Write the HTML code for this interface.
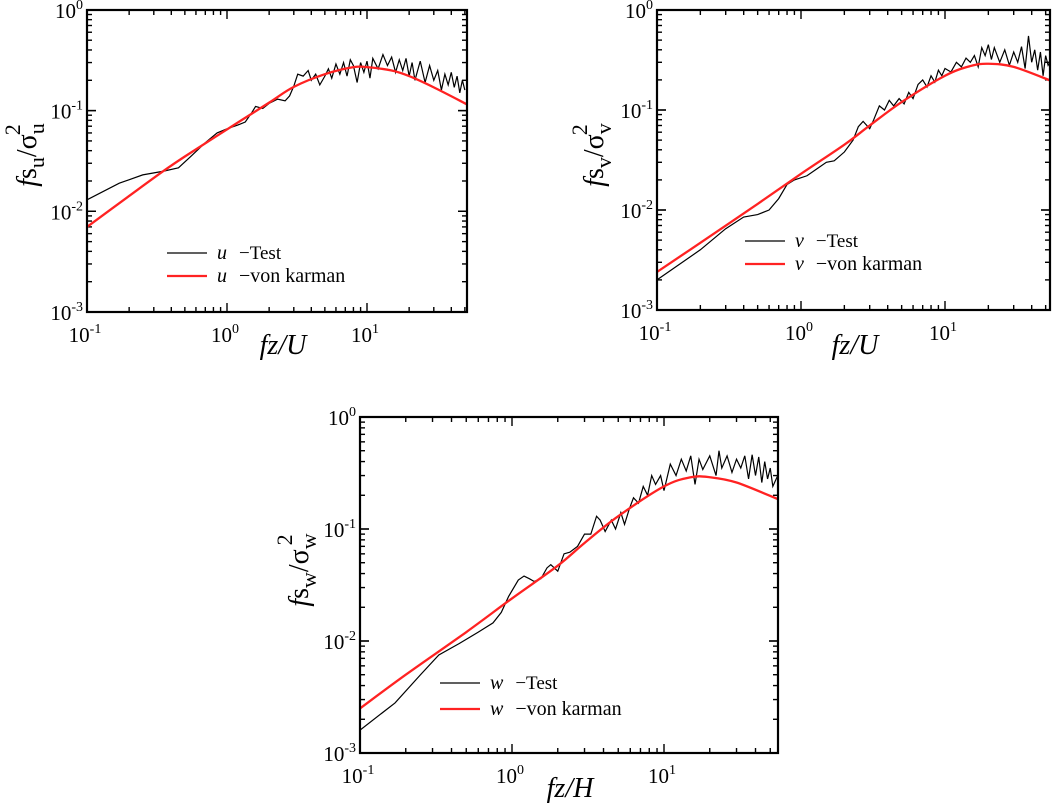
<!DOCTYPE html>
<html><head><meta charset="utf-8"><style>
html,body{margin:0;padding:0;background:#fff;}
svg{display:block;font-family:"Liberation Serif",serif;}
</style></head><body>
<svg id="fig" width="1052" height="804" viewBox="0 0 1052 804"></svg>
<script>
// Panel u data
const uTestX=[0.1,0.17,0.25,0.35,0.45,0.55,0.7,0.85,1,1.2,1.35,1.5,1.6,1.8,2,2.3,2.6,2.8,3,3.2,3.5,3.8,4,4.3,4.6,5,5.3,5.6,6,6.4,6.8,7.2,7.6,8,8.5,9,9.5,10,10.5,11,12,13,14,15,16,17,18,19,20,21,22,24,26,28,30,32,34,36,38,40,42,44,46,48,50];
const uTestY=[0.013,0.019,0.023,0.025,0.027,0.035,0.048,0.06,0.066,0.072,0.077,0.095,0.11,0.105,0.118,0.13,0.125,0.14,0.175,0.23,0.22,0.25,0.2,0.23,0.18,0.22,0.26,0.21,0.29,0.23,0.3,0.22,0.32,0.28,0.19,0.3,0.24,0.31,0.21,0.33,0.26,0.36,0.28,0.34,0.24,0.32,0.25,0.33,0.22,0.3,0.2,0.31,0.19,0.28,0.2,0.25,0.16,0.23,0.18,0.24,0.17,0.22,0.15,0.2,0.16];
const uVkX=[0.1,0.2,0.35,0.5,1,2,3,5,8,10,15,20,30,52];
const uVkY=[0.007,0.0142,0.025,0.035,0.065,0.12,0.172,0.23,0.27,0.27,0.25,0.22,0.17,0.115];
// Panel v data
const vTestX=[0.1,0.2,0.3,0.4,0.5,0.6,0.7,0.8,0.9,1.1,1.3,1.5,1.7,2,2.3,2.5,2.7,3,3.2,3.5,3.8,4.1,4.4,4.8,5.2,5.6,6,6.5,7,7.5,8,8.5,9,9.5,10,11,12,13,14,15,16,17,18,19,20,21,22,24,26,28,30,32,34,36,38,40,42,44,46,48,50,52,55];
const vTestY=[0.002,0.004,0.0065,0.0085,0.009,0.01,0.013,0.018,0.02,0.022,0.026,0.03,0.031,0.038,0.05,0.068,0.077,0.065,0.08,0.11,0.1,0.125,0.11,0.13,0.115,0.15,0.13,0.18,0.2,0.17,0.22,0.19,0.25,0.22,0.26,0.24,0.3,0.27,0.33,0.3,0.35,0.27,0.42,0.35,0.45,0.32,0.42,0.3,0.4,0.28,0.38,0.3,0.43,0.26,0.55,0.3,0.4,0.25,0.38,0.22,0.35,0.28,0.32];
const vVkX=[0.1,0.2,0.5,1,2,3,5,10,15,20,30,55];
const vVkY=[0.0024,0.0047,0.0115,0.023,0.045,0.07,0.12,0.22,0.275,0.29,0.27,0.195];
// Panel w data
const wTestX=[0.1,0.17,0.25,0.33,0.45,0.6,0.75,0.85,0.95,1.1,1.2,1.3,1.4,1.55,1.7,1.8,2,2.2,2.4,2.7,3,3.3,3.6,3.8,4.1,4.5,4.8,5.2,5.5,5.9,6.3,6.8,7.3,7.8,8.3,8.8,9.5,10,11,12,13,14,15,16,17,18,20,22,23,24,26,28,30,32,34,36,38,40,42,44,46,48,50,52,56];
const wTestY=[0.0016,0.0028,0.005,0.0075,0.0095,0.012,0.0145,0.018,0.025,0.035,0.038,0.036,0.034,0.036,0.045,0.048,0.042,0.06,0.062,0.07,0.09,0.09,0.13,0.12,0.095,0.12,0.1,0.14,0.11,0.15,0.19,0.17,0.24,0.2,0.3,0.25,0.3,0.22,0.38,0.3,0.42,0.33,0.45,0.25,0.42,0.34,0.45,0.3,0.5,0.35,0.45,0.32,0.42,0.35,0.45,0.28,0.46,0.3,0.44,0.26,0.4,0.28,0.35,0.24,0.3];
const wVkX=[0.1,0.2,0.5,1,2,3,5,10,15,20,30,56];
const wVkY=[0.0025,0.005,0.012,0.024,0.047,0.075,0.13,0.24,0.29,0.29,0.26,0.185];
const xTickExp=[-1,0,1];
const yTickExp=[0,-1,-2,-3];

const NS="http://www.w3.org/2000/svg";
const svg=document.getElementById('fig');
function mk(tag,attrs,parent){const e=document.createElementNS(NS,tag);for(const k in attrs)e.setAttribute(k,attrs[k]);(parent||svg).appendChild(e);return e;}
function smoothPath(pts){
  let d='M'+pts[0][0]+','+pts[0][1];
  for(let i=0;i<pts.length-1;i++){
    const p0=pts[i-1]||pts[i],p1=pts[i],p2=pts[i+1],p3=pts[i+2]||p2;
    const c1x=p1[0]+(p2[0]-p0[0])/6,c1y=p1[1]+(p2[1]-p0[1])/6;
    const c2x=p2[0]-(p3[0]-p1[0])/6,c2y=p2[1]-(p3[1]-p1[1])/6;
    d+=' C'+c1x+','+c1y+' '+c2x+','+c2y+' '+p2[0]+','+p2[1];
  }
  return d;
}

function panel(p){
  const g=mk('g',{});
  
  
  const xs=v=>p.L+(Math.log10(v)+1)*p.dx;
  const ys=v=>p.B-(Math.log10(v)+3)*p.dy;
  const tk=mk('g',{stroke:'#000','stroke-width':1.4},g);
  
  
  for(let d=-1;d<=1;d++)for(let m=1;m<=9;m++){const v=m*Math.pow(10,d);const x=xs(v);if(x>p.R-1)continue;const len=m===1?9:5;
    mk('line',{x1:x,x2:x,y1:p.B,y2:p.B-len},tk);mk('line',{x1:x,x2:x,y1:p.T,y2:p.T+len},tk);}
  for(let d=-3;d<=-1;d++)for(let m=1;m<=10;m++){const v=m*Math.pow(10,d);const y=ys(v);const len=(m===1||m===10)?9:5;
    mk('line',{x1:p.L,x2:p.L+len,y1:y,y2:y},tk);mk('line',{x1:p.R,x2:p.R-len,y1:y,y2:y},tk);}
  xTickExp.forEach(e=>{const t=mk('text',{x:xs(Math.pow(10,e))-2,y:p.B+30,'font-size':21,'text-anchor':'middle'},g);
    
    t.innerHTML='10<tspan dy="-9" font-size="14">'+e+'</tspan>';});
  yTickExp.forEach(e=>{const t=mk('text',{x:p.L-4,y:ys(Math.pow(10,e))+8,'font-size':21,'text-anchor':'end'},g);
    
    t.innerHTML='10<tspan dy="-9" font-size="14">'+e+'</tspan>';});
  const clipId='clip-'+p.name;
  const cp=mk('clipPath',{id:clipId},g);mk('rect',{x:p.L,y:p.T,width:p.R-p.L,height:p.B-p.T},cp);
  const tl=mk('polyline',{points:p.tx.map((v,i)=>xs(v)+','+ys(p.ty[i])).join(' '),fill:'none',stroke:'#000','stroke-width':1.2,'clip-path':'url(#'+clipId+')'},g);
  
  const vl=mk('path',{d:smoothPath(p.vx.map((v,i)=>[xs(v),ys(p.vy[i])])),fill:'none',stroke:'#f22','stroke-width':2.3,'stroke-linejoin':'round','clip-path':'url(#'+clipId+')'},g);
  
  const fr=mk('rect',{x:p.L,y:p.T,width:p.R-p.L,height:p.B-p.T,fill:'none',stroke:'#000','stroke-width':2.2},g);
  
  const lg=mk('g',{},g);
  mk('line',{x1:p.lx,x2:p.lx+40,y1:p.ly,y2:p.ly,stroke:'#000','stroke-width':1.2},lg);
  mk('line',{x1:p.lx,x2:p.lx+40,y1:p.ly+p.lg,y2:p.ly+p.lg,stroke:'#f22','stroke-width':2.3},lg);
  const t1=mk('text',{x:p.lx+50,y:p.ly+6,'font-size':20},lg);t1.innerHTML='<tspan font-style="italic">'+p.name+'</tspan><tspan dx="12" font-size="19">−Test</tspan>';
  
  const t2=mk('text',{x:p.lx+50,y:p.ly+p.lg+6,'font-size':20},lg);t2.innerHTML='<tspan font-style="italic">'+p.name+'</tspan><tspan dx="12">−von karman</tspan>';
  
  const xt=mk('text',{x:p.xtx,y:p.xty,'font-size':28,'font-style':'italic','text-anchor':'middle'},g);
  xt.textContent=p.xtitle;
  const yt=mk('text',{x:0,y:0,'font-size':28,'text-anchor':'middle',transform:'translate('+p.ytx+','+p.yty+') rotate(-90)'},g);
  yt.innerHTML='<tspan font-style="italic">f</tspan>s<tspan dy="8" font-size="22">'+p.sub+'</tspan><tspan dy="-8">/σ</tspan><tspan dy="8" font-size="22">'+p.sub+'</tspan><tspan dx="-12" dy="-24" font-size="22">2</tspan>';
  
}
panel({name:'u',L:87,R:467,T:10,B:312,dx:140,dy:100.7,tx:uTestX,ty:uTestY,vx:uVkX,vy:uVkY,lx:167,ly:253,lg:23,xtx:283,xty:354,ytx:36,yty:155,xtitle:'fz/U',sub:'u'});
panel({name:'v',L:657,R:1050,T:10,B:310,dx:144,dy:100,tx:vTestX,ty:vTestY,vx:vVkX,vy:vVkY,lx:745,ly:241,lg:23,xtx:855,xty:354,ytx:603,yty:155,xtitle:'fz/U',sub:'v'});
panel({name:'w',L:360,R:778,T:417,B:753,dx:152,dy:112,tx:wTestX,ty:wTestY,vx:wVkX,vy:wVkY,lx:440,ly:683,lg:26,xtx:570,xty:797,ytx:308,yty:570,xtitle:'fz/H',sub:'w'});
</script>
</body></html>
